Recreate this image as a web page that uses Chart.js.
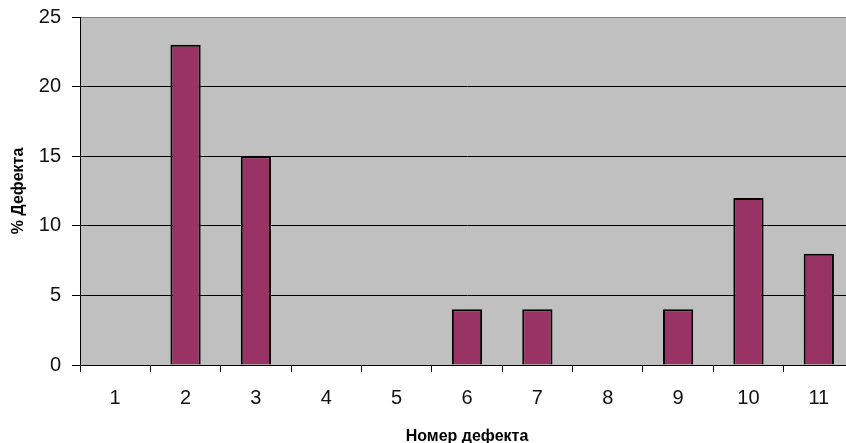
<!DOCTYPE html>
<html>
<head>
<meta charset="utf-8">
<script src="https://cdn.jsdelivr.net/npm/chart.js@4/dist/chart.umd.min.js"></script>
<style>
  html, body { margin: 0; padding: 0; background: #fff; overflow: hidden; }
  #wrap { width: 858px; height: 443px; }
</style>
</head>
<body>
<div id="wrap"><canvas id="defects"></canvas></div>
<script>
        // Data
        const DEFECT_NUMBERS = ['1', '2', '3', '4', '5', '6', '7', '8', '9', '10', '11'];
        const DEFECT_PERCENT = [0, 23, 15, 0, 0, 4, 4, 0, 4, 12, 8];
        const Y_TICKS = [0, 5, 10, 15, 20, 25];

        const X_TITLE = 'Номер дефекта';
        const Y_TITLE = '% Дефекта';

        // Gray plot area behind the bars
        const plotBackground = {
            id: 'plotBackground',
            beforeDraw(chart) {
                const { ctx, chartArea: a } = chart;
                ctx.save();
                ctx.fillStyle = '#c0c0c0';
                ctx.fillRect(a.left, a.top, a.right - a.left, a.bottom - a.top);
                ctx.restore();
            }
        };

        const tickFont = { family: 'Liberation Sans, Arial, sans-serif', size: 20 };
        const titleFont = { family: 'Liberation Sans, Arial, sans-serif', size: 16, weight: 'bold', lineHeight: 1 };

        new Chart(document.getElementById('defects'), {
            type: 'bar',
            data: {
                labels: DEFECT_NUMBERS,
                datasets: [{
                    data: DEFECT_PERCENT,
                    backgroundColor: '#993366',
                    borderColor: '#000',
                    borderWidth: 2,
                    categoryPercentage: 1,
                    barPercentage: 0.43
                }]
            },
            options: {
                responsive: true,
                maintainAspectRatio: false,
                animation: false,
                layout: { padding: { top: 17, right: 4, left: 0, bottom: 0 } },
                plugins: { legend: { display: false }, tooltip: { enabled: false } },
                scales: {
                    x: {
                        grid: {
                            offset: true,
                            drawOnChartArea: false,
                            drawTicks: true,
                            tickLength: 7,
                            tickColor: '#000'
                        },
                        border: { color: '#000', width: 1 },
                        ticks: { color: '#111', font: tickFont, padding: 14, maxRotation: 0 },
                        title: { display: true, text: X_TITLE, color: '#000', font: titleFont, padding: -2 },
                        afterFit(scale) { scale.height = 78; }
                    },
                    y: {
                        min: 0,
                        max: 25,
                        afterBuildTicks(scale) { scale.ticks = Y_TICKS.map(v => ({ value: v })); },
                        grid: {
                            color: ctx => (ctx.tick && ctx.tick.value === 25 ? '#808080' : '#000'),
                            tickColor: '#000',
                            tickLength: 8,
                            lineWidth: 1
                        },
                        border: { color: '#000', width: 1 },
                        ticks: { color: '#111', font: tickFont, padding: 11 },
                        title: { display: true, text: Y_TITLE, color: '#000', font: titleFont, padding: 11 },
                        afterFit(scale) {
                            scale.width = 80;
                            // let the layout padding alone decide the plot top
                            scale.paddingTop = 0;
                            scale.paddingBottom = 0;
                        }
                    }
                }
            },
            plugins: [plotBackground]
        });
</script>
</body>
</html>
